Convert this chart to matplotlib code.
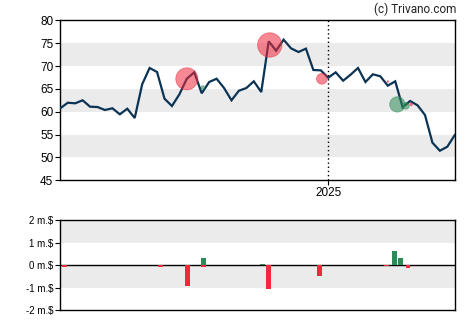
import numpy as np
import pandas as pd
import matplotlib
matplotlib.use("Agg")
import matplotlib.pyplot as plt
import matplotlib.dates as mdates

plt.rcParams["font.family"] = ["Liberation Sans", "DejaVu Sans"]

# weekly closing prices
weeks = pd.date_range("2024-04-24", periods=54, freq="7D")
close = [
    60.75, 61.97, 61.84, 62.50, 61.10, 61.03, 60.38, 60.75, 59.44, 60.66,
    58.63, 66.00, 69.57, 68.69, 62.85, 61.25, 63.81, 67.22, 68.62, 64.03,
    66.50, 67.22, 65.19, 62.50, 64.60, 65.19, 66.65, 64.30, 75.40, 73.35,
    75.76, 73.87, 73.06, 73.80, 69.13, 69.05, 67.44, 68.62, 66.79, 68.10,
    69.57, 66.50, 68.19, 67.75, 65.70, 66.65, 60.97, 62.35, 61.40, 59.28,
    53.22, 51.47, 52.35, 54.90,
]

# insider trades: price points (value in m.$, + buy / - sell)
trade_dates = pd.to_datetime([
    "2024-08-21", "2024-09-05", "2024-11-07", "2024-12-26",
    "2025-02-26", "2025-03-07", "2025-03-15", "2025-03-20",
])
trade_prices = [67.2, 65.3, 74.6, 67.2, 66.6, 61.6, 61.3, 61.6]
trade_values = [-0.95, 0.15, -1.05, -0.46, -0.07, 0.66, 0.29, -0.12]

# net flow per day (m.$)
flow_dates = pd.to_datetime([
    "2024-04-28", "2024-07-27", "2024-08-22", "2024-09-06", "2024-09-06",
    "2024-10-31", "2024-11-06", "2024-12-24", "2025-02-25", "2025-03-04",
    "2025-03-10", "2025-03-17",
])
flow_values = [-0.07, -0.07, -0.92, 0.31, -0.07, 0.04, -1.05, -0.47,
               -0.06, 0.62, 0.31, -0.13]

RED = "#f0283c"
GREEN = "#2e8b57"
BAND = "#ebebeb"
LINE = "#0b3354"

fig = plt.figure(figsize=(4.70, 3.25), dpi=100)
ax = fig.add_axes([60.3 / 470, 1 - 180.3 / 325, 395 / 470, 160 / 325])
ax2 = fig.add_axes([60.3 / 470, 1 - 310 / 325, 395 / 470, 89.7 / 325])

# price panel
for lo in (50, 60, 70):
    ax.axhspan(lo, lo + 5, color=BAND, lw=0, zorder=0)
ax.axvline(pd.Timestamp("2025-01-01"), color="black", lw=1, ls=(0, (1, 2)), zorder=1)
ax.plot(weeks, close, color=LINE, lw=1.6, zorder=3, solid_joinstyle="miter")

px_per_pt = 100 / 72
vals = np.array(trade_values)
radius_px = 11.6 * np.abs(vals)
sizes = (2 * radius_px / px_per_pt) ** 2
colors = np.where(vals < 0, RED, GREEN)
ax.scatter(trade_dates, trade_prices, s=sizes, c=list(colors), alpha=0.55,
           linewidths=0.6, edgecolors=list(colors), zorder=4)

ax.set_xlim(weeks[0], weeks[-1] + pd.Timedelta(days=0.5))
ax.set_ylim(45, 80)
ax.set_yticks(range(45, 81, 5))
ax.set_xticks([pd.Timestamp("2025-01-01")])
ax.xaxis.set_major_formatter(mdates.DateFormatter("%Y"))
ax.tick_params(axis="both", length=3.5, width=0.8, labelsize=8.5,
               colors="black", pad=1.5)
for s in ax.spines.values():
    s.set_linewidth(1.0)

# flow panel
ax2.axhspan(1, 2, color=BAND, lw=0, zorder=0)
ax2.axhspan(-1, 0, color=BAND, lw=0, zorder=0)
ax2.axhline(0, color="black", lw=1, zorder=2)
fv = np.array(flow_values)
ax2.bar(flow_dates, fv, width=4.5, color=np.where(fv < 0, RED, GREEN).tolist(),
        zorder=3)
ax2.set_xlim(ax.get_xlim())
ax2.set_ylim(-2, 2)
ax2.set_yticks([-2, -1, 0, 1, 2])
ax2.set_yticklabels(["-2 m.$", "-1 m.$", "0 m.$", "1 m.$", "2 m.$"])
ax2.set_xticks([])
ax2.tick_params(axis="y", length=3.5, width=0.8, labelsize=7, colors="black",
                pad=1.5)
for s in ax2.spines.values():
    s.set_linewidth(1.0)

fig.text(456 / 470, 1 - 9.5 / 325, "(c) Trivano.com", ha="right", va="center",
         fontsize=8.5, family=["Roboto", "DejaVu Sans"], color="#222222")

fig.savefig("out.png", dpi=100)
